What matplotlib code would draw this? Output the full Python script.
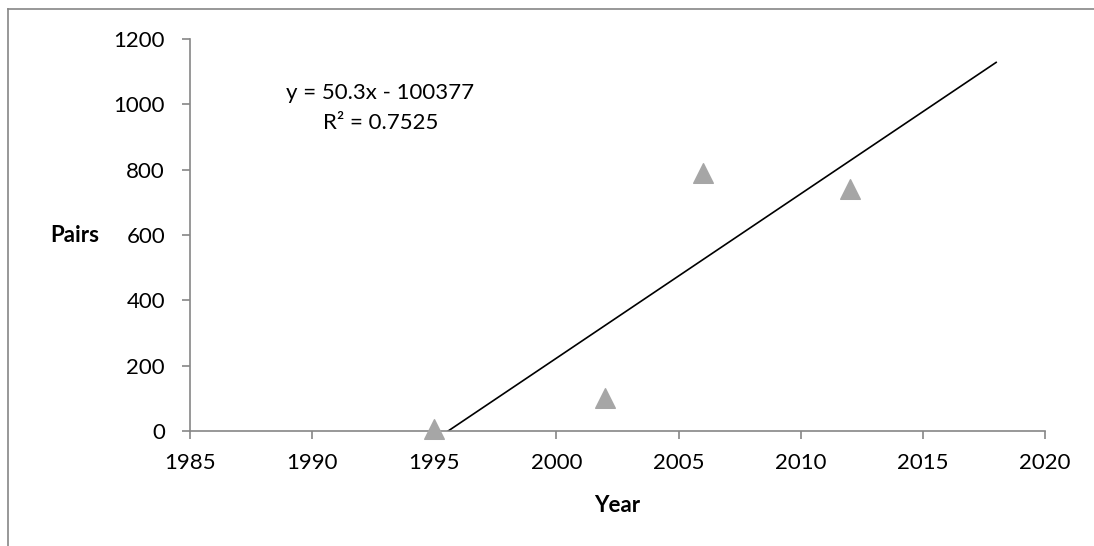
import matplotlib
matplotlib.use("Agg")
import matplotlib.pyplot as plt
from matplotlib.lines import Line2D
import numpy as np

plt.rcParams["font.family"] = ["Lato", "DejaVu Sans"]

# survey counts
years = [1995, 2002, 2006, 2012]
pairs = [5, 100, 790, 740]

# linear trendline, as reported
slope = 50.3
intercept = -100377
r2 = 0.7525
trend_x = [1995, 2018]

GRAY = "#868686"
FS = 16
W, H = 1094, 546
fig = plt.figure(figsize=(W / 100, H / 100), dpi=100)
ax = fig.add_axes([190 / W, 1 - 431 / H, (1045 - 190) / W, (431 - 39) / H])

ax.scatter(years, pairs, marker="^", s=200, color="#A6A6A6", zorder=3, clip_on=False)
tx = np.array(trend_x, dtype=float)
ax.plot(tx, slope * tx + intercept, color="black", lw=1.2, zorder=2)

ax.set_xlim(1985, 2020)
ax.set_ylim(0, 1200)
ax.set_xticks(range(1985, 2021, 5))
ax.set_yticks(range(0, 1201, 200))
for s in ["top", "right"]:
    ax.spines[s].set_visible(False)
for s in ["left", "bottom"]:
    ax.spines[s].set_color(GRAY)
    ax.spines[s].set_linewidth(1.2)
ax.tick_params(direction="out", length=6, width=1.2, color=GRAY, labelsize=FS)
ax.tick_params(axis="y", pad=12)
ax.tick_params(axis="x", pad=10)

# axis titles
ax.text(0.5, -0.19, "Year", transform=ax.transAxes, fontsize=FS, fontweight="bold",
        ha="center", va="center")
ax.text(-0.1345, 0.5, "Pairs", transform=ax.transAxes, fontsize=FS, fontweight="bold",
        ha="center", va="center")

# trendline label
ax.text(1992.8, 1035, f"y = {slope}x - {abs(intercept)}", fontsize=FS, ha="center", va="center")
ax.text(1992.8, 943, f"R² = {r2}", fontsize=FS, ha="center", va="center")

# chart area frame
fig.add_artist(Line2D([8 / W, 8 / W], [0, 1 - 9 / H], transform=fig.transFigure, color=GRAY, lw=1.2))
fig.add_artist(Line2D([8 / W, 1], [1 - 9 / H, 1 - 9 / H], transform=fig.transFigure, color=GRAY, lw=1.2))

fig.savefig("out.png", dpi=100)
